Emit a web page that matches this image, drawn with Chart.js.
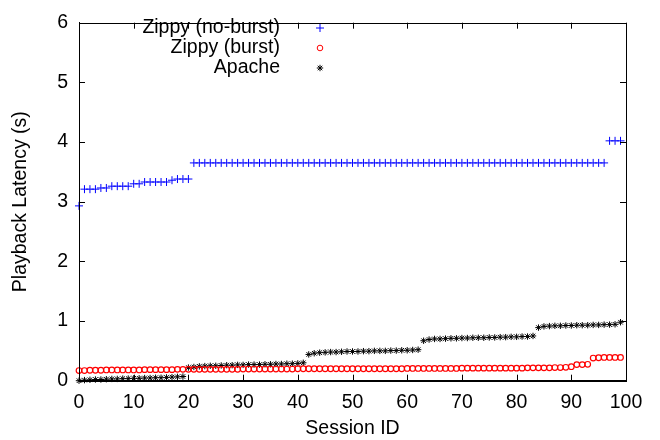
<!DOCTYPE html>
<html>
<head>
<meta charset="utf-8">
<script src="https://cdn.jsdelivr.net/npm/chart.js@4/dist/chart.umd.min.js"></script>
<style>
  html, body { margin: 0; padding: 0; background: #fff; }
  #wrap { width: 660px; height: 440px; }
</style>
</head>
<body>
<div id="wrap"><canvas id="chart"></canvas></div>
<script>
// latency per session, sorted (seconds)
var noBurst = [
    2.93, 3.21, 3.21, 3.21, 3.23, 3.23, 3.26, 3.26, 3.26, 3.26,
    3.30, 3.30, 3.33, 3.33, 3.33, 3.33, 3.33, 3.36, 3.38, 3.38,
    3.38, 3.65, 3.65, 3.65, 3.65, 3.65, 3.65, 3.65, 3.65, 3.65,
    3.65, 3.65, 3.65, 3.65, 3.65, 3.65, 3.65, 3.65, 3.65, 3.65,
    3.65, 3.65, 3.65, 3.65, 3.65, 3.65, 3.65, 3.65, 3.65, 3.65,
    3.65, 3.65, 3.65, 3.65, 3.65, 3.65, 3.65, 3.65, 3.65, 3.65,
    3.65, 3.65, 3.65, 3.65, 3.65, 3.65, 3.65, 3.65, 3.65, 3.65,
    3.65, 3.65, 3.65, 3.65, 3.65, 3.65, 3.65, 3.65, 3.65, 3.65,
    3.65, 3.65, 3.65, 3.65, 3.65, 3.65, 3.65, 3.65, 3.65, 3.65,
    3.65, 3.65, 3.65, 3.65, 3.65, 3.65, 3.65, 4.02, 4.02, 4.02
];
var burst = [
    0.17, 0.17, 0.175, 0.175, 0.175, 0.18, 0.18, 0.18, 0.18, 0.18,
    0.18, 0.18, 0.185, 0.185, 0.185, 0.185, 0.185, 0.185, 0.19, 0.19,
    0.19, 0.19, 0.19, 0.19, 0.19, 0.19, 0.19, 0.19, 0.19, 0.19,
    0.195, 0.195, 0.195, 0.195, 0.195, 0.195, 0.195, 0.195, 0.195, 0.195,
    0.2, 0.2, 0.2, 0.2, 0.2, 0.2, 0.2, 0.2, 0.2, 0.2,
    0.2, 0.2, 0.2, 0.2, 0.2, 0.2, 0.2, 0.2, 0.2, 0.2,
    0.205, 0.205, 0.205, 0.205, 0.205, 0.205, 0.205, 0.205, 0.205, 0.205,
    0.21, 0.21, 0.21, 0.21, 0.21, 0.21, 0.21, 0.21, 0.21, 0.21,
    0.21, 0.21, 0.215, 0.215, 0.215, 0.215, 0.215, 0.22, 0.22, 0.225,
    0.235, 0.27, 0.27, 0.275, 0.38, 0.385, 0.39, 0.39, 0.39, 0.39
];
var apache = [
    0.0, 0.01, 0.015, 0.02, 0.02, 0.025, 0.03, 0.03, 0.035, 0.035,
    0.04, 0.04, 0.045, 0.045, 0.05, 0.05, 0.055, 0.06, 0.065, 0.07,
    0.22, 0.23, 0.24, 0.245, 0.25, 0.25, 0.255, 0.26, 0.26, 0.265,
    0.265, 0.27, 0.27, 0.27, 0.275, 0.275, 0.28, 0.28, 0.285, 0.285,
    0.29, 0.30, 0.44, 0.46, 0.47, 0.475, 0.48, 0.48, 0.485, 0.49,
    0.49, 0.49, 0.495, 0.495, 0.5, 0.5, 0.5, 0.505, 0.505, 0.51,
    0.51, 0.515, 0.52, 0.67, 0.69, 0.7, 0.7, 0.705, 0.71, 0.71,
    0.715, 0.715, 0.72, 0.72, 0.72, 0.725, 0.725, 0.73, 0.73, 0.735,
    0.735, 0.74, 0.74, 0.75, 0.89, 0.91, 0.915, 0.92, 0.92, 0.925,
    0.925, 0.93, 0.93, 0.93, 0.935, 0.935, 0.94, 0.94, 0.945, 0.98
];
var seriesNames = ["Zippy (no-burst)", "Zippy (burst)", "Apache"];
var xTicks = [0, 10, 20, 30, 40, 50, 60, 70, 80, 90, 100];
var yTicks = [0, 1, 2, 3, 4, 5, 6];

var FONT = "'Liberation Sans', Arial, Helvetica, sans-serif";
var FSIZE = 19.5;

// session id is the position in the sorted list
let toPoints = function (arr) {
    return arr.map(function (v, i) { return { x: i, y: v }; });
}

// gnuplot style: ticks pointing inward on all four sides, closed box
let frameTicks = {
    id: 'frameTicks',
    afterDatasetsDraw: function (chart) {
        let ctx = chart.ctx;
        let a = chart.chartArea;
        let xs = chart.scales.x, ys = chart.scales.y;
        let len = 6;
        ctx.save();
        ctx.strokeStyle = '#000';
        ctx.lineWidth = 1;
        ctx.beginPath();
        for (let t of xTicks) {
            let px = Math.round(xs.getPixelForValue(t)) + 0.5;
            ctx.moveTo(px, a.bottom); ctx.lineTo(px, a.bottom - len);
            ctx.moveTo(px, a.top); ctx.lineTo(px, a.top + len);
        }
        for (let t of yTicks) {
            let py = Math.round(ys.getPixelForValue(t)) + 0.5;
            ctx.moveTo(a.left, py); ctx.lineTo(a.left + len, py);
            ctx.moveTo(a.right, py); ctx.lineTo(a.right - len, py);
        }
        ctx.stroke();
        ctx.strokeRect(Math.round(a.left) + 0.5, Math.round(a.top) + 0.5,
            Math.round(a.right - a.left), Math.round(a.bottom - a.top));
        ctx.restore();
    }
};

// legend inside the plot: right aligned text, marker to its right
let keyBox = {
    id: 'keyBox',
    afterDatasetsDraw: function (chart) {
        let ctx = chart.ctx;
        ctx.save();
        ctx.font = FSIZE + 'px ' + FONT;
        ctx.textAlign = 'right';
        ctx.textBaseline = 'middle';
        chart.data.datasets.forEach(function (ds, i) {
            let y = 28 + i * 20;
            ctx.fillStyle = '#000';
            ctx.fillText(ds.label, 280, y);
            ctx.strokeStyle = ds.borderColor;
            ctx.fillStyle = ds.backgroundColor;
            Chart.helpers.drawPoint(ctx, {
                pointStyle: ds.pointStyle,
                radius: ds.pointRadius,
                borderWidth: ds.pointBorderWidth,
                rotation: 0
            }, 320, y);
        });
        ctx.restore();
    }
};

let ctx = document.getElementById('chart');
new Chart(ctx, {
    type: 'scatter',
    data: {
        datasets: [{
            label: seriesNames[0],
            data: toPoints(noBurst),
            pointStyle: 'cross',
            pointRadius: 4,
            pointBorderWidth: 1,
            borderColor: '#0000ff',
            backgroundColor: '#0000ff',
            clip: false
        }, {
            label: seriesNames[1],
            data: toPoints(burst),
            pointStyle: 'circle',
            pointRadius: 2.8,
            pointBorderWidth: 1.2,
            borderColor: '#ff0000',
            backgroundColor: 'rgba(255,255,255,0)',
            clip: false
        }, {
            label: seriesNames[2],
            data: toPoints(apache),
            pointStyle: 'star',
            pointRadius: 3.2,
            pointBorderWidth: 1,
            borderColor: '#000000',
            backgroundColor: '#000000',
            clip: false
        }]
    },
    options: {
        responsive: true,
        maintainAspectRatio: false,
        animation: false,
        events: [],
        layout: { padding: { top: 12.7, right: 34, left: 9, bottom: 0 } },
        plugins: {
            legend: { display: false },
            tooltip: { enabled: false }
        },
        scales: {
            x: {
                type: 'linear',
                min: 0,
                max: 100,
                afterFit: function (scale) { scale.height = 59.3; },
                afterBuildTicks: function (scale) {
                    scale.ticks = xTicks.map(function (v) { return { value: v }; });
                },
                grid: { display: true, drawOnChartArea: false, drawTicks: false },
                border: { display: true, color: '#000', width: 1 },
                ticks: {
                    color: '#000',
                    padding: 10,
                    maxRotation: 0,
                    font: { family: FONT, size: FSIZE }
                },
                title: {
                    display: true,
                    text: 'Session ID',
                    color: '#000',
                    padding: { top: 0, bottom: 0 },
                    font: { family: FONT, size: FSIZE }
                }
            },
            y: {
                type: 'linear',
                min: 0,
                max: 6,
                afterFit: function (scale) { scale.width = 70; },
                afterBuildTicks: function (scale) {
                    scale.ticks = yTicks.map(function (v) { return { value: v }; });
                },
                grid: { display: true, drawOnChartArea: false, drawTicks: false },
                border: { display: true, color: '#000', width: 1 },
                ticks: {
                    color: '#000',
                    padding: 11,
                    font: { family: FONT, size: FSIZE }
                },
                title: {
                    display: true,
                    text: 'Playback Latency (s)',
                    color: '#000',
                    padding: 0,
                    font: { family: FONT, size: FSIZE }
                }
            }
        }
    },
    plugins: [frameTicks, keyBox]
});
</script>
</body>
</html>
